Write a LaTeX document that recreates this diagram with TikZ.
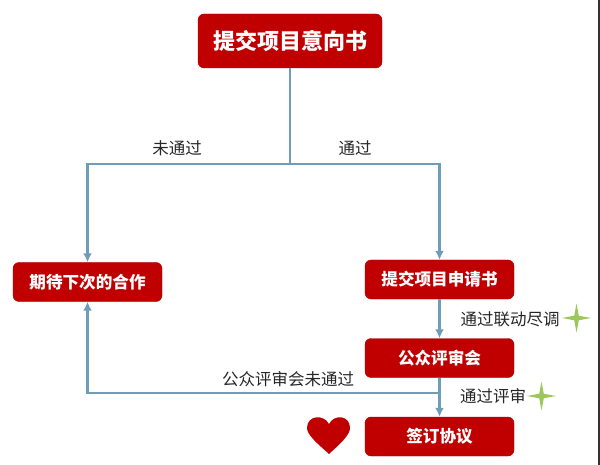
\documentclass[tikz,border=0pt]{standalone}
\usepackage{fontspec}
\setmainfont{Noto Sans CJK SC}
\usetikzlibrary{shapes,arrows.meta}
\definecolor{boxred}{HTML}{C00000}
\definecolor{linkblue}{HTML}{6F9DB8}
\definecolor{stargreen}{HTML}{9BC85A}
\tikzstyle{block} = [rectangle, draw=boxred!85!black, fill=boxred, text=white, text centered, rounded corners=6pt, minimum width=149pt, minimum height=39pt, node distance=78.5pt, inner sep=0pt, font=\fontsize{16.6pt}{18pt}\selectfont\bfseries]
\tikzstyle{line} = [draw=linkblue, line width=2.6pt, -{Latex[length=9pt,width=9pt]}]
\tikzstyle{plain} = [draw=linkblue, line width=2.6pt]
\tikzstyle{tag} = [inner sep=0pt, text=black!85, font=\fontsize{16.5pt}{18pt}\selectfont]
\tikzstyle{spark} = [star, star points=4, star point ratio=4.5, fill=stargreen, inner sep=0pt, minimum size=29pt]

\begin{document}
\begin{tikzpicture}[x=1pt, y=-1pt]
		\useasboundingbox (0,0) rectangle (600,465);
		\node [block, minimum width=184pt, minimum height=54pt, font=\fontsize{22pt}{24pt}\selectfont\bfseries] (intent) at (290,41) {提交项目意向书};
		\node [block] (wait) at (87.5,282) {期待下次的合作};
		\node [block] (apply) at (439.5,279.5) {提交项目申请书};
		\node [block, below of=apply] (review) {公众评审会};
		\node [block, below of=review] (sign) {签订协议};

		\coordinate (fork) at (290,164);
		\coordinate (back) at (440,393);

		\path [plain] (intent.south) -- (fork);
		\path [line] (fork) -| (wait.north);
		\path [line] (fork) -| (apply.north);
		\path [line] (apply) -- (review);
		\path [line] (review) -- (sign);
		\path [line] (back) -| (wait.south);

		\node [tag] (failed) at (177,148) {未通过};
		\node [tag] (passed) at (355,148) {通过};
		\node [tag] (visit) at (510,319) {通过联动尽调};
		\node [tag] (pass) at (493,396) {通过评审};
		\node [tag] (rejected) at (288,379) {公众评审会未通过};
		\node [spark] (visitstar) at (576.5,318) {};
		\node [spark] (passstar) at (541.5,396) {};

		\fill [boxred] (329,454) .. controls (318,444) and (307,435) .. (307,428) .. controls (307,415) and (324,414) .. (329,424) .. controls (334,414) and (350,415) .. (350,428) .. controls (350,435) and (340,444) .. (329,454) -- cycle;
		\draw [black!80, line width=1.2pt] (599,0) -- (599,465);
	\end{tikzpicture}
\end{document}
